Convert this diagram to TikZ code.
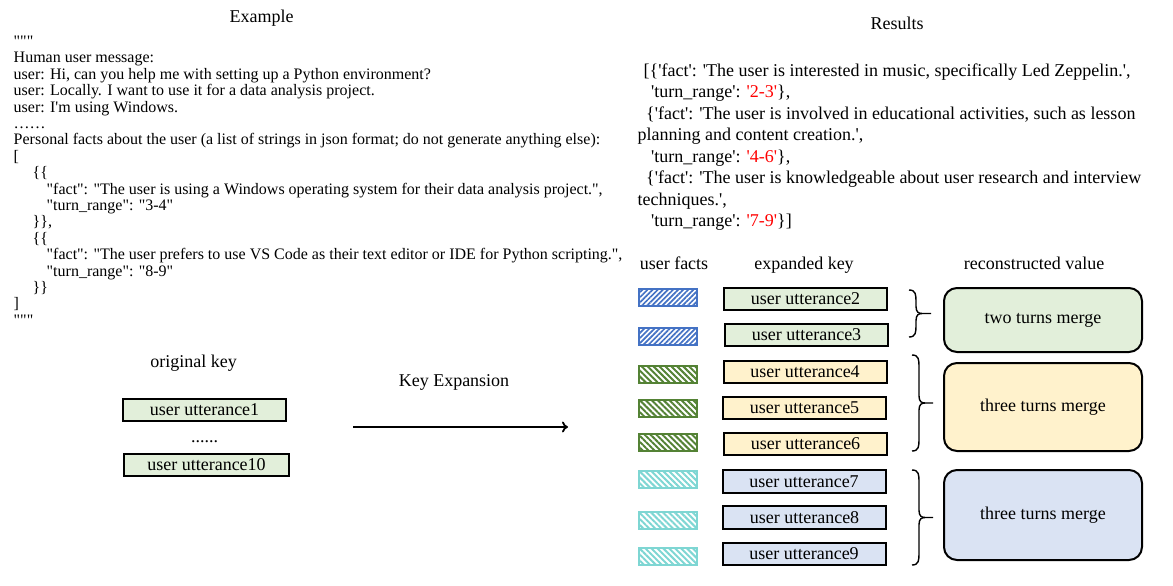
\documentclass[tikz,border=0pt]{standalone}
\usepackage{fontspec}
\setmainfont{Liberation Serif}[Ligatures=TeXOff]
\usetikzlibrary{arrows.meta,patterns.meta}
\definecolor{kgreen}{HTML}{E2EFDA}
\definecolor{kyellow}{HTML}{FFF2CC}
\definecolor{kblue}{HTML}{DAE3F3}
\definecolor{hblue}{HTML}{4472C4}
\definecolor{hgreen}{HTML}{548235}
\definecolor{hcyan}{HTML}{7ED6D3}
\newcommand{\cbrace}[4]{%
  \draw[bracestyle] (#1,#2) .. controls ({#1+7},{#2}) and ({#1+7},{#2+5}) .. ({#1+7},{#2+12})
    -- ({#1+7},{(#2+#3)/2-7}) .. controls ({#1+7},{(#2+#3)/2-1}) and ({#1+10},{(#2+#3)/2}) .. ({#1+13},{(#2+#3)/2}) -- (#4,{(#2+#3)/2});
  \draw[bracestyle] (#1,#3) .. controls ({#1+7},{#3}) and ({#1+7},{#3-5}) .. ({#1+7},{#3-12})
    -- ({#1+7},{(#2+#3)/2+7}) .. controls ({#1+7},{(#2+#3)/2+1}) and ({#1+10},{(#2+#3)/2}) .. ({#1+13},{(#2+#3)/2});
}
\begin{document}
\begin{tikzpicture}[x=1pt,y=-1pt,
  title/.style={anchor=base, inner sep=0, font=\fontsize{18}{21}\selectfont},
  ukey/.style={draw, line width=2pt, minimum width=163pt, minimum height=22pt, inner sep=0, font=\fontsize{18}{21}\selectfont},
  merge/.style={draw, line width=2pt, rounded corners=13pt, minimum width=198pt, inner sep=0, font=\fontsize{18}{21}\selectfont},
  hatch/.style={line width=2pt, minimum width=58pt, minimum height=17pt, inner sep=0},
  hb/.style={hatch, draw=hblue, pattern={Lines[angle=45,distance=3.6pt,line width=1.7pt]}, pattern color=hblue},
  hg/.style={hatch, draw=hgreen, pattern={Lines[angle=-45,distance=4.2pt,line width=2pt]}, pattern color=hgreen},
  hc/.style={hatch, draw=hcyan, pattern={Lines[angle=-45,distance=4.2pt,line width=2pt]}, pattern color=hcyan},
  bracestyle/.style={line width=1.4pt, line join=round},
]
\useasboundingbox (0,0) rectangle (1173,586);

% ---------- titles ----------
\node[title] (extitle) at (261.7,22.7) {Example};
\node[title] (restitle) at (897,29.3) {Results};

% ---------- example text ----------
\node[anchor=north west, inner sep=0, align=left, font=\fontsize{16}{16.4}\selectfont] (example) at (13.5,34.8) {\strut"""\\
Human user message:\\
user: Hi, can you help me with setting up a Python environment?\\
user: Locally. I want to use it for a data analysis project.\\
user: I'm using Windows.\\
……\\
Personal facts about the user (a list of strings in json format; do not generate anything else):\\
{[}\\
\hspace*{19pt}\{\{\\
\hspace*{33pt}"fact": "The user is using a Windows operating system for their data analysis project.",\\
\hspace*{33pt}"turn\_range": "3-4"\\
\hspace*{19pt}\}\},\\
\hspace*{19pt}\{\{\\
\hspace*{33pt}"fact": "The user prefers to use VS Code as their text editor or IDE for Python scripting.",\\
\hspace*{33pt}"turn\_range": "8-9"\\
\hspace*{19pt}\}\}\\
{]}\\
"""};

% ---------- results text ----------
\node[anchor=north west, inner sep=0, align=left, font=\fontsize{18}{21.5}\selectfont] (results) at (637.5,60.95) {\strut\hspace*{6pt}{[}\{'fact': 'The user is interested in music, specifically Led Zeppelin.',\\
\hspace*{13.5pt}'turn\_range': \textcolor{red}{'2-3'}\},\\
\hspace*{8.5pt}\{'fact': 'The user is involved in educational activities, such as lesson\\
planning and content creation.',\\
\hspace*{13.5pt}'turn\_range': \textcolor{red}{'4-6'}\},\\
\hspace*{8.5pt}\{'fact': 'The user is knowledgeable about user research and interview\\
techniques.',\\
\hspace*{13.5pt}'turn\_range': \textcolor{red}{'7-9'}\}{]}};

% ---------- original key ----------
\node[title] (origtitle) at (193.7,367) {original key};
\node[ukey, fill=kgreen] (u1) at (204.5,409.5) {user utterance1};
\node[title] (dots) at (204.5,442) {......};
\node[ukey, fill=kgreen, minimum width=165pt] (u10) at (206.5,464.5) {user utterance10};

% ---------- key expansion arrow ----------
\node[title] (kelabel) at (454,386.7) {Key Expansion};
\coordinate (ka) at (353,427);
\coordinate (kb) at (568,427);
\draw[line width=1.8pt, -{To[length=6pt,width=11pt]}] (ka) -- (kb);

% ---------- column headers ----------
\node[title] (hfacts) at (674,269) {user facts};
\node[title] (hkey) at (804,269) {expanded key};
\node[title] (hval) at (1034,269) {reconstructed value};

% ---------- user facts (hatched) ----------
\node[hb] (f2) at (668,297.5) {};
\node[hb] (f3) at (668,336) {};
\node[hg] (f4) at (668,374.5) {};
\node[hg] (f5) at (668,408.5) {};
\node[hg] (f6) at (668,442.5) {};
\node[hc] (f7) at (668,479) {};
\node[hc] (f8) at (668,520.5) {};
\node[hc] (f9) at (668,556.5) {};

% ---------- expanded keys ----------
\node[ukey, fill=kgreen] (u2) at (805.5,299) {user utterance2};
\node[ukey, fill=kgreen] (u3) at (806.5,335) {user utterance3};
\node[ukey, fill=kyellow] (u4) at (805,372) {user utterance4};
\node[ukey, fill=kyellow] (u5) at (804.5,408) {user utterance5};
\node[ukey, fill=kyellow] (u6) at (805.5,444) {user utterance6};
\node[ukey, fill=kblue, minimum height=23pt] (u7) at (804,481.5) {user utterance7};
\node[ukey, fill=kblue, minimum height=23pt] (u8) at (804.5,517.5) {user utterance8};
\node[ukey, fill=kblue] (u9) at (804,554) {user utterance9};

% ---------- braces ----------
\cbrace{909}{290}{337}{931}
\cbrace{912}{355}{451}{933}
\cbrace{912}{470}{565}{933}

% ---------- reconstructed values ----------
\node[merge, fill=kgreen, minimum height=64pt] (m1) at (1043,320) {two turns merge};
\node[merge, fill=kyellow, minimum height=88pt] (m2) at (1043,407) {three turns merge};
\node[merge, fill=kblue, minimum height=90pt] (m3) at (1043,515) {three turns merge};
\end{tikzpicture}
\end{document}
